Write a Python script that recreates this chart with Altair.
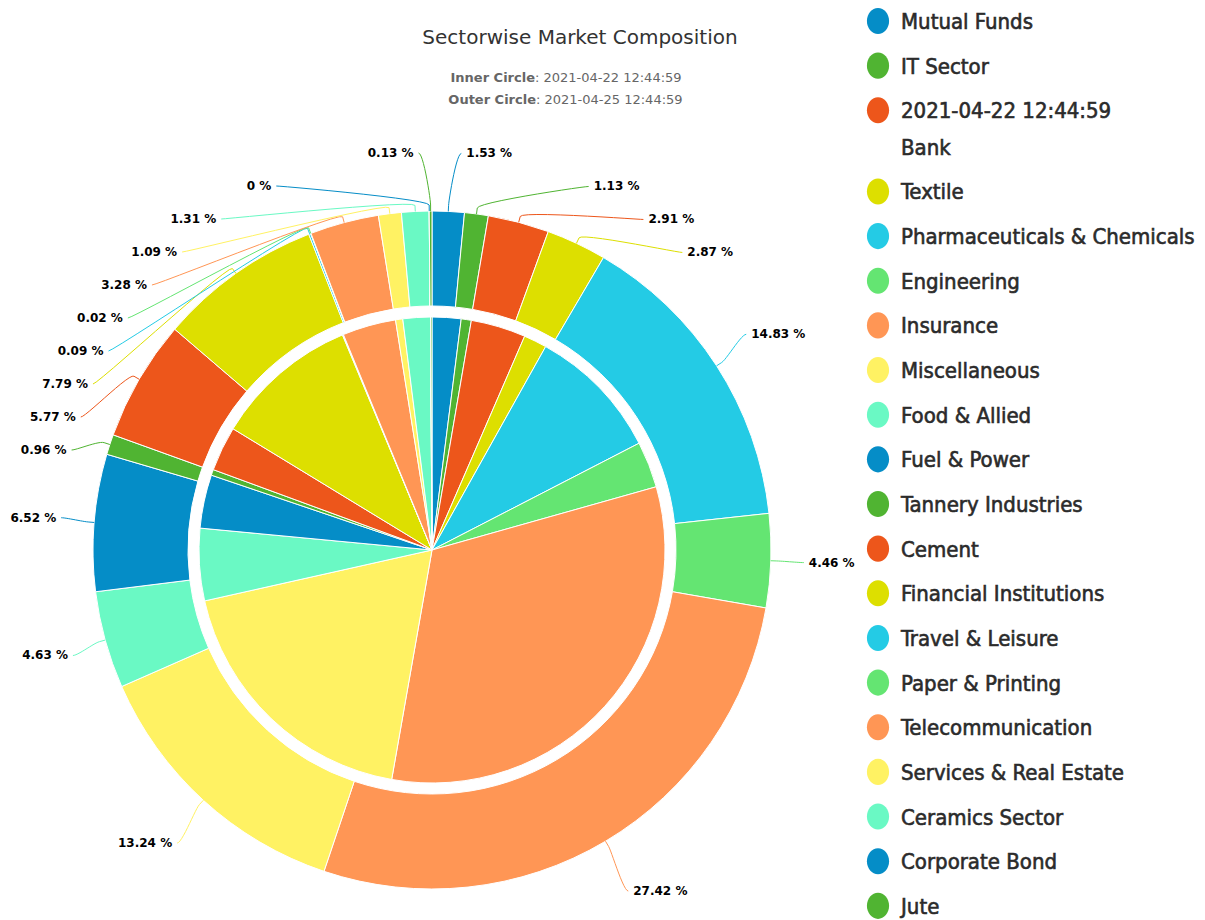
import altair as alt
import pandas as pd
import numpy as np

# ---------------- data ----------------
categories = ["Mutual Funds", "IT Sector", "Bank", "Textile", "Pharmaceuticals & Chemicals",
              "Engineering", "Insurance", "Miscellaneous", "Food & Allied", "Fuel & Power",
              "Tannery Industries", "Cement", "Financial Institutions", "Travel & Leisure",
              "Paper & Printing", "Telecommunication", "Services & Real Estate",
              "Ceramics Sector", "Corporate Bond", "Jute"]
legend_labels = ["Mutual Funds", "IT Sector", "2021-04-22 12:44:59\nBank", "Textile",
                 "Pharmaceuticals & Chemicals", "Engineering", "Insurance", "Miscellaneous",
                 "Food & Allied", "Fuel & Power", "Tannery Industries", "Cement",
                 "Financial Institutions", "Travel & Leisure", "Paper & Printing",
                 "Telecommunication", "Services & Real Estate", "Ceramics Sector",
                 "Corporate Bond", "Jute"]
# inner circle (2021-04-22)
inner_values = [2.0, 0.7, 3.8, 1.6, 9.3, 3.2, 32.1, 18.7, 5.0, 3.7,
                0.4, 3.1, 10.0, 0.05, 0.02, 3.7, 0.5, 1.9, 0.0, 0.1]
# outer circle (2021-04-25), from data labels
outer_values = [1.53, 1.13, 2.91, 2.87, 14.83, 4.46, 27.42, 13.24, 4.63, 6.52,
                0.96, 5.77, 7.79, 0.09, 0.02, 3.28, 1.09, 1.31, 0.0, 0.13]
palette = ['#058DC7', '#50B432', '#ED561B', '#DDDF00', '#24CBE5',
           '#64E572', '#FF9655', '#FFF263', '#6AF9C4']
title_text = "Sectorwise Market Composition"
sub_bold = ["Inner Circle", "Outer Circle"]
sub_norm = [": 2021-04-22 12:44:59", ": 2021-04-25 12:44:59"]

colors = [palette[i % len(palette)] for i in range(len(categories))]

# ---------------- layout constants ----------------
CX, CY = 432, 550
R_OUT, R_RING_IN, R_IN = 339, 244, 233
LRX, LRY = 360, 397          # label placement ellipse
MIN_GAP = 33

color_scale = alt.Scale(domain=categories, range=colors)

pie_df = pd.DataFrame({"cat": categories, "idx": range(len(categories)),
                       "inner": inner_values, "outer": outer_values})

inner = alt.Chart(pie_df).mark_arc(radius=R_IN, stroke="white", strokeWidth=1).encode(
    theta=alt.Theta("inner:Q", stack=True),
    order=alt.Order("idx:Q"),
    color=alt.Color("cat:N", scale=color_scale, legend=None),
    x=alt.value(CX), y=alt.value(CY))

outer = alt.Chart(pie_df).mark_arc(radius=R_OUT, radius2=R_RING_IN, stroke="white",
                                   strokeWidth=1).encode(
    theta=alt.Theta("outer:Q", stack=True),
    order=alt.Order("idx:Q"),
    color=alt.Color("cat:N", scale=color_scale, legend=None),
    x=alt.value(CX), y=alt.value(CY))

# ---------------- data label layout (derived from outer values) ----------------
vals = np.array(outer_values, dtype=float)
tot = vals.sum()
cum = np.concatenate([[0], np.cumsum(vals)])
mid = (cum[:-1] + vals / 2) / tot * 2 * np.pi
right = mid < np.pi
nat_y = CY - LRY * np.cos(mid)
lab_y = nat_y.copy()
for side in (True, False):
    ids = [i for i in range(len(vals)) if right[i] == side]
    ids.sort(key=lambda i: nat_y[i])
    prev = -1e9
    for i in ids:
        lab_y[i] = max(nat_y[i], prev + MIN_GAP)
        prev = lab_y[i]

rows, lines = [], []
for i in range(len(vals)):
    s = 1 if right[i] else -1
    f = np.clip((lab_y[i] - CY) / LRY, -1, 1)
    xoff = LRX * max(np.sqrt(1 - f * f), abs(np.sin(mid[i])))
    xa = CX + s * xoff
    rows.append({"cat": categories[i], "label": f"{outer_values[i]:g} %",
                 "px": xa + s * 17, "py": lab_y[i], "right": bool(right[i])})
    # connector: label end -> bezier -> breakAt -> touching slice
    tx, ty = CX + R_OUT * np.sin(mid[i]), CY - R_OUT * np.cos(mid[i])
    bx, by = CX + (R_OUT + 6) * np.sin(mid[i]), CY - (R_OUT + 6) * np.cos(mid[i])
    lx, ly = xa + s * 12, lab_y[i]
    p0 = np.array([lx, ly]); p1 = np.array([lx - s * 5, ly])
    p2 = np.array([2 * bx - tx, 2 * by - ty]); p3 = np.array([bx, by])
    k = 0
    for t in np.linspace(0, 1, 14):
        pt = (1 - t) ** 3 * p0 + 3 * (1 - t) ** 2 * t * p1 + 3 * (1 - t) * t ** 2 * p2 + t ** 3 * p3
        lines.append({"cat": categories[i], "k": k, "px": pt[0], "py": pt[1]}); k += 1
    lines.append({"cat": categories[i], "k": k, "px": tx, "py": ty})

lab_df = pd.DataFrame(rows)
line_df = pd.DataFrame(lines)

X = lambda f: alt.X(f, scale=None, axis=None)
Y = lambda f: alt.Y(f, scale=None, axis=None)

connectors = alt.Chart(line_df).mark_line(strokeWidth=1, interpolate="linear").encode(
    x=X("px:Q"), y=Y("py:Q"), detail="cat:N", order="k:Q",
    color=alt.Color("cat:N", scale=color_scale, legend=None))

lab_font = dict(font="DejaVu Sans", fontSize=12, fontWeight="bold", color="#000000",
                baseline="middle")
labels_r = alt.Chart(lab_df[lab_df.right]).mark_text(align="left", **lab_font).encode(
    x=X("px:Q"), y=Y("py:Q"), text="label:N")
labels_l = alt.Chart(lab_df[~lab_df.right]).mark_text(align="right", **lab_font).encode(
    x=X("px:Q"), y=Y("py:Q"), text="label:N")

# ---------------- legend ----------------
leg_y, y0 = [], 21.0
for i, lbl in enumerate(legend_labels):
    leg_y.append(y0)
    y0 += 44.65 + (lbl.count("\n") * 36.5)
leg_df = pd.DataFrame({"cat": categories, "label": legend_labels, "py": leg_y,
                       "mx": 878, "tx": 901})
ellipse = "M-0.85,0 A0.85,1 0 1,0 0.85,0 A0.85,1 0 1,0 -0.85,0 Z"
leg_marks = alt.Chart(leg_df).mark_point(filled=True, shape=ellipse, size=680, opacity=1,
                                         strokeWidth=0).encode(
    x=X("mx:Q"), y=Y("py:Q"), color=alt.Color("cat:N", scale=color_scale, legend=None))
leg_text = alt.Chart(leg_df).mark_text(
    align="left", baseline="alphabetic", dy=8, lineBreak="\n", lineHeight=37,
    font="DejaVu Sans Condensed, sans-serif", fontSize=22, color="#2b2b2b",
    stroke="#2b2b2b", strokeWidth=0.6).encode(
    x=X("tx:Q"), y=Y("py:Q"), text="label:N")

# ---------------- titles ----------------
title_df = pd.DataFrame({"t": [title_text], "px": [580], "py": [38]})
title = alt.Chart(title_df).mark_text(font="DejaVu Sans", fontSize=20, color="#333333",
                                      align="center", baseline="middle").encode(
    x=X("px:Q"), y=Y("py:Q"), text="t:N")
sub_df = pd.DataFrame({"b": sub_bold, "n": sub_norm, "px": [535, 536], "py": [78, 100]})
sub_b = alt.Chart(sub_df).mark_text(font="DejaVu Sans", fontSize=13, fontWeight="bold",
                                    color="#666666", align="right", baseline="middle").encode(
    x=X("px:Q"), y=Y("py:Q"), text="b:N")
sub_n = alt.Chart(sub_df).mark_text(font="DejaVu Sans", fontSize=13, color="#666666",
                                    align="left", baseline="middle").encode(
    x=X("px:Q"), y=Y("py:Q"), text="n:N")

chart = alt.layer(inner, outer, connectors, labels_r, labels_l, leg_marks, leg_text,
                  title, sub_b, sub_n).resolve_scale(theta="independent").properties(
    width=1205, height=920, padding=0, autosize="none"
).configure_view(stroke=None)

chart.save("out.html", embed_options={"renderer": "svg", "actions": False})
